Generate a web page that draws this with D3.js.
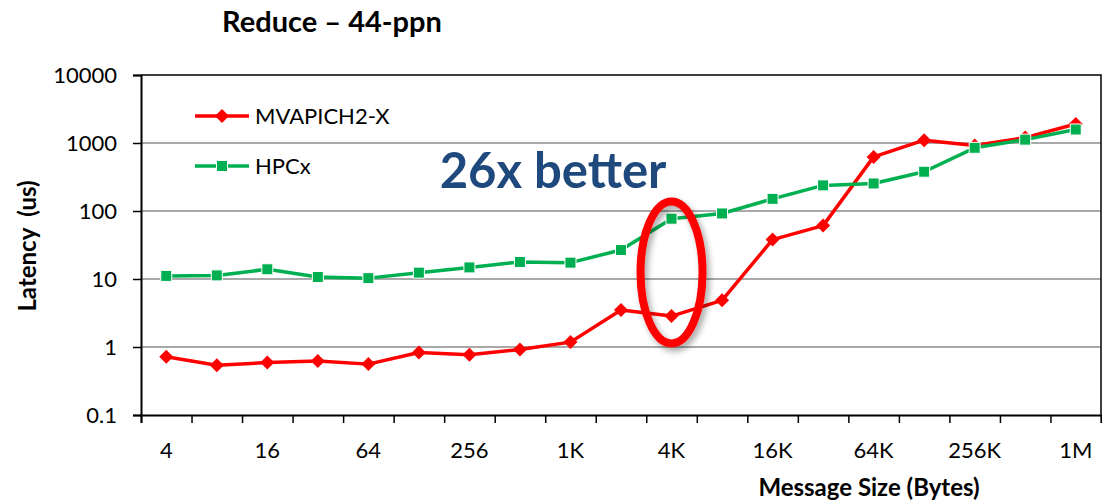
<!DOCTYPE html>
<html>
<head>
<meta charset="utf-8">
<script src="https://cdn.jsdelivr.net/npm/d3@7"></script>
<style>
  body { margin: 0; background: #fff; }
  text { font-family: Lato, "Open Sans", sans-serif; }
</style>
</head>
<body>
<svg id="chart" width="1102" height="503"></svg>
<script>
// message sizes (x categories)
var sizes = ["4","8","16","32","64","128","256","512","1K","2K","4K","8K","16K","32K","64K","128K","256K","512K","1M"];
var sizeLabels = ["4","16","64","256","1K","4K","16K","64K","256K","1M"];
// latency in us
var mvapich = [0.72,0.54,0.59,0.62,0.56,0.83,0.77,0.92,1.18,3.5,2.85,4.85,38,61,625,1100,920,1200,1900];
var hpcx = [11.1,11.3,13.9,10.7,10.3,12.4,14.8,17.8,17.4,26.7,77,92,151,238,254,378,850,1120,1580];
var yTicks = [0.1,1,10,100,1000,10000];
var seriesNames = ["MVAPICH2-X","HPCx"];

var svg = d3.select("#chart");
var plotL = 141, plotR = 1101, plotT = 75, plotB = 415;

var x = d3.scaleBand().domain(sizes).range([plotL, plotR]);
var xEdge = d3.scaleLinear().domain([0, sizes.length]).range([plotL, plotR]);
var y = d3.scaleLog().domain([0.1, 10000]).range([plotB, plotT]);

// drop shadow for the callout ellipse
var defs = svg.append("defs");
var f = defs.append("filter").attr("id","shadow").attr("x","-50%").attr("y","-50%").attr("width","200%").attr("height","200%");
f.append("feDropShadow").attr("dx",3).attr("dy",4).attr("stdDeviation",3).attr("flood-color","#000").attr("flood-opacity",0.35);

// gridlines
svg.append("g")
  .selectAll("line")
  .data(yTicks.slice(1, -1))
  .enter().append("line")
    .attr("x1", plotL).attr("x2", plotR)
    .attr("y1", d => y(d)).attr("y2", d => y(d))
    .attr("stroke", "#8c8c8c")
    .attr("stroke-width", 1.5);

// frame (top/right)
svg.append("path")
  .attr("d", "M" + plotL + "," + plotT + "H" + plotR + "V" + plotB)
  .attr("fill", "none").attr("stroke", "#000").attr("stroke-width", 1.5);

// y axis
var yAxis = svg.append("g")
  .attr("transform", "translate(" + plotL + ",0)")
  .call(d3.axisLeft(y).tickValues(yTicks).tickFormat(d => String(d)).tickSize(8).tickPadding(16));
yAxis.select(".domain").attr("stroke-width", 2);
yAxis.selectAll("line").attr("stroke-width", 1.5);
yAxis.selectAll("text").attr("font-size", "22px").attr("fill", "#000");

// x axis: tick marks at category edges
var xTicks = svg.append("g")
  .attr("transform", "translate(0," + plotB + ")")
  .call(d3.axisBottom(xEdge).tickValues(d3.range(sizes.length + 1)).tickFormat("").tickSize(8));
xTicks.select(".domain").attr("stroke-width", 2);
xTicks.selectAll("line").attr("stroke-width", 1.5);

// x axis: labels at category centres
var xLabels = svg.append("g")
  .attr("transform", "translate(0," + plotB + ")")
  .call(d3.axisBottom(x).tickSize(0).tickPadding(27)
    .tickFormat(d => sizeLabels.includes(d) ? d : ""));
xLabels.select(".domain").remove();
xLabels.selectAll("text").attr("font-size", "22px").attr("fill", "#000");

// titles
svg.append("text")
  .attr("x", 332).attr("y", 32)
  .attr("text-anchor", "middle")
  .attr("font-size", "29px").attr("font-weight", "bold")
  .text("Reduce – 44-ppn");

svg.append("text")
  .attr("transform", "translate(36,246) rotate(-90)")
  .attr("text-anchor", "middle")
  .attr("font-size", "24px").attr("font-weight", "bold")
  .style("white-space", "pre")
  .text("Latency  (us)");

svg.append("text")
  .attr("x", 869).attr("y", 496)
  .attr("text-anchor", "middle")
  .attr("font-size", "24px").attr("font-weight", "bold")
  .text("Message Size (Bytes)");

// lines + markers
var line = d3.line()
  .x((d, i) => x(sizes[i]) + x.bandwidth() / 2)
  .y(d => y(d));

var diamond = d3.symbol().type(d3.symbolSquare).size(98);
var square = d3.symbol().type(d3.symbolSquare).size(121);

var series = [
  {name: seriesNames[0], values: mvapich, color: "#ff0000", symbol: diamond, rot: 45, outline: "none"},
  {name: seriesNames[1], values: hpcx, color: "#00b050", symbol: square, rot: 0, outline: "#fff"}
];

series.forEach(function(s){
  svg.append("path")
    .attr("d", line(s.values))
    .attr("fill", "none")
    .attr("stroke", s.color)
    .attr("stroke-width", 3.5)
    .attr("stroke-linejoin", "round");
  svg.append("g").selectAll("path")
    .data(s.values)
    .enter().append("path")
      .attr("d", s.symbol)
      .attr("transform", (d, i) => "translate(" + (x(sizes[i]) + x.bandwidth() / 2) + "," + y(d) + ") rotate(" + s.rot + ")")
      .attr("fill", s.color)
      .attr("stroke", s.outline)
      .attr("stroke-width", 1);
});

// legend
var legend = svg.append("g");
series.forEach(function(s, i){
  var ly = 116 + i * 50;
  legend.append("line")
    .attr("x1", 195).attr("x2", 249).attr("y1", ly).attr("y2", ly)
    .attr("stroke", s.color).attr("stroke-width", 3.5);
  legend.append("path")
    .attr("d", s.symbol)
    .attr("transform", "translate(222," + ly + ") rotate(" + s.rot + ")")
    .attr("fill", s.color)
    .attr("stroke", s.outline).attr("stroke-width", 1);
  legend.append("text")
    .attr("x", 255).attr("y", ly + 8)
    .attr("font-size", "22px")
    .text(s.name);
});

// callout
svg.append("ellipse")
  .attr("cx", x("4K") + x.bandwidth() / 2)
  .attr("cy", y(12.5))
  .attr("rx", 31).attr("ry", 71)
  .attr("fill", "none")
  .attr("stroke", "#ff0000")
  .attr("stroke-width", 8)
  .attr("filter", "url(#shadow)");

svg.append("text")
  .attr("x", 553).attr("y", 188)
  .attr("text-anchor", "middle")
  .attr("font-size", "49px").attr("font-weight", "bold")
  .attr("fill", "#1f497d")
  .text("26x better");
</script>
</body>
</html>
